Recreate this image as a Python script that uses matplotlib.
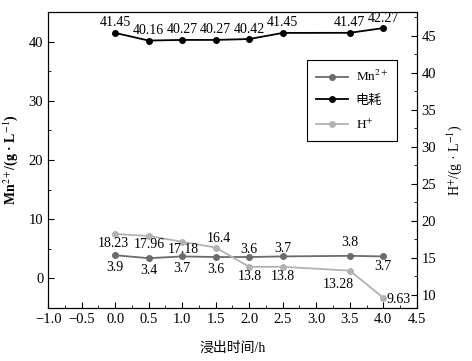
import matplotlib.pyplot as plt
from matplotlib.ticker import MultipleLocator

plt.rcParams['font.family'] = ['Liberation Serif', 'Noto Sans CJK SC']
plt.rcParams['font.size'] = 10
plt.rcParams['mathtext.fontset'] = 'stix'

hours = [0.0, 0.5, 1.0, 1.5, 2.0, 2.5, 3.5, 4.0]
mn = [3.9, 3.4, 3.7, 3.6, 3.6, 3.7, 3.8, 3.7]
power = [41.45, 40.16, 40.27, 40.27, 40.42, 41.45, 41.47, 42.27]
h_ion = [18.23, 17.96, 17.18, 16.4, 13.8, 13.8, 13.28, 9.63]

mn_labels = ['3.9', '3.4', '3.7', '3.6', '3.6', '3.7', '3.8', '3.7']
power_labels = ['41.45', '40.16', '40.27', '40.27', '40.42', '41.45', '41.47', '42.27']
h_labels = ['18.23', '17.96', '17.18', '16.4', '13.8', '13.8', '13.28', '9.63']

c_mn = '#6b6b6b'
c_pw = '#000000'
c_h = '#b2b2b2'

fig = plt.figure(figsize=(4.72, 3.61), dpi=100)
ax = fig.add_axes([0.102, 0.147, 0.781, 0.82])
ax2 = ax.twinx()

l1, = ax.plot(hours, mn, color=c_mn, marker='o', ms=4, lw=1.3, label='Mn$^{2+}$')
l2, = ax.plot(hours, power, color=c_pw, marker='o', ms=4, lw=1.3, label='电耗')
l3, = ax2.plot(hours, h_ion, color=c_h, marker='o', ms=4, lw=1.3, label='H$^{+}$')

ax.set_xlim(-1.0, 4.5)
ax.set_ylim(-5, 45)
ax2.set_ylim(8.25, 48.2)

ax.xaxis.set_minor_locator(MultipleLocator(0.25))
ax.yaxis.set_minor_locator(MultipleLocator(5))
ax2.yaxis.set_minor_locator(MultipleLocator(2.5))
ax.set_xticks([-1.0, -0.5, 0.0, 0.5, 1.0, 1.5, 2.0, 2.5, 3.0, 3.5, 4.0, 4.5])
ax.set_xticklabels(['−1.0', '−0.5', '0.0', '0.5', '1.0', '1.5', '2.0', '2.5', '3.0', '3.5', '4.0', '4.5'])
ax.set_yticks([0, 10, 20, 30, 40])
ax2.set_yticks([10, 15, 20, 25, 30, 35, 40, 45])

for a in (ax, ax2):
    a.tick_params(which='both', direction='in', labelsize=10.5)
    a.tick_params(which='major', length=4)
    a.tick_params(which='minor', length=2.5)
    a.tick_params(top=False, which='both')

ax.set_xlabel('浸出时间/h', fontsize=10, labelpad=11)
ax.set_ylabel('Mn$^{2+}$/(g · L$^{-1}$)', fontsize=10, fontweight='bold', labelpad=6)
ax2.set_ylabel('H$^{+}$/(g · L$^{-1}$)', fontsize=10, labelpad=6)

# point label offsets in pixels (x, y), y up
mn_off = [(0, -12), (0, -12), (0, -12), (0, -12), (0, 8), (0, 8), (0, 13), (0, -10)]
for x, y, t, o in zip(hours, mn, mn_labels, mn_off):
    ax.annotate(t, (x, y), xytext=o, textcoords='offset pixels', ha='center',
                va='center', fontsize=10)

for x, y, t in zip(hours, power, power_labels):
    ax.annotate(t, (x, y), xytext=(0, 10), textcoords='offset pixels', ha='center',
                va='center', fontsize=10)

h_off = [(-2, -10), (1, -9), (1, -8), (3, 9), (1, -10), (0, -10), (-11, -14), (15, -2)]
for x, y, t, o in zip(hours, h_ion, h_labels, h_off):
    ax2.annotate(t, (x, y), xytext=o, textcoords='offset pixels', ha='center',
                 va='center', fontsize=10)

leg = ax.legend(handles=[l1, l2, l3], loc='upper right', bbox_to_anchor=(0.965, 0.86),
                fancybox=False, edgecolor='black', framealpha=1, fontsize=9.5,
                handlelength=2.4, labelspacing=0.8, borderpad=0.7, handletextpad=0.6)
leg.get_frame().set_linewidth(0.8)

fig.savefig('out.png', dpi=100)
